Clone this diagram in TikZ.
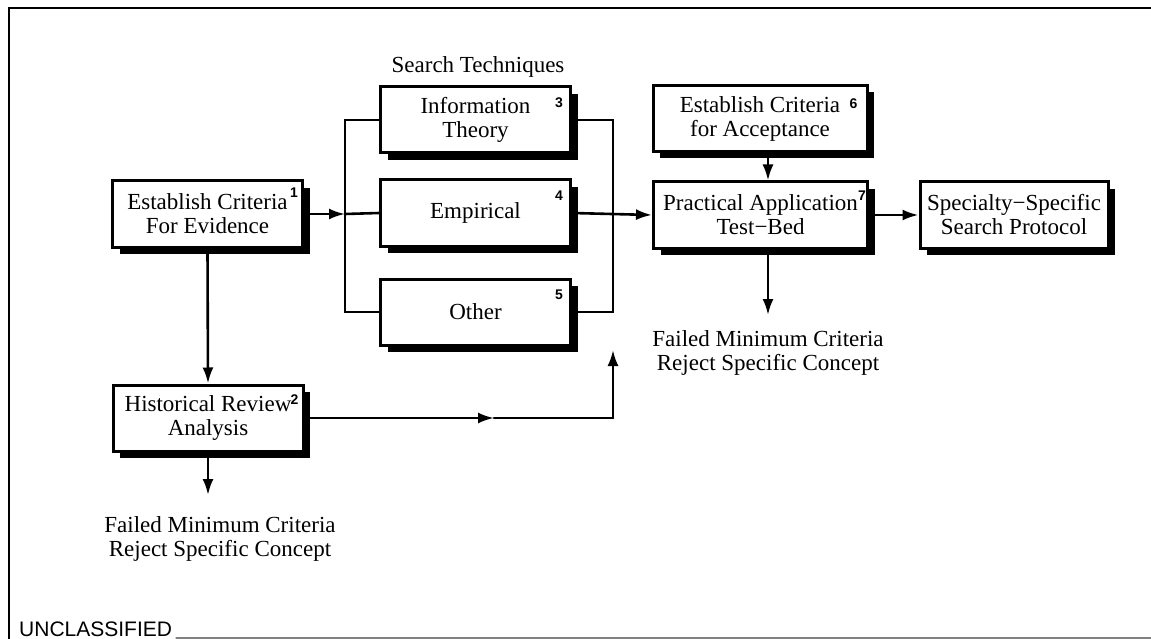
\documentclass[tikz,border=0pt]{standalone}
\usepackage{fontspec}
\setmainfont{Liberation Serif}
\newfontfamily\numfont{Liberation Sans}
\usepackage{tikz}
\usetikzlibrary{arrows.meta,shadows,positioning}
\tikzset{>={Latex[length=16pt,width=11pt]},
  box/.style={draw,line width=3pt,fill=white,minimum width=190pt,
    minimum height=66pt,inner sep=0pt,align=center,
    font=\fontsize{23}{24}\selectfont,
    drop shadow={shadow xshift=7pt,shadow yshift=-7pt,fill=black,opacity=1}},
  wbox/.style={box,minimum width=214pt},
  num/.style={font=\numfont\bfseries\fontsize{14}{14}\selectfont,inner sep=0pt},
  conn/.style={line width=2.6pt},
  lbl/.style={align=center,font=\fontsize{23}{24}\selectfont}}

\begin{document}
\begin{tikzpicture}[x=1pt,y=-1pt,line cap=round]

  \useasboundingbox (0,0) rectangle (1151,639);

  % frame
  \draw [line width=2.8pt] (1151,8) -- (9,8) -- (9,639);
  \draw [gray,line width=1.2pt] (176,638) -- (1151,638);
  \node [anchor=base west,inner sep=0pt,font=\numfont\fontsize{21}{21}\selectfont]
    (uncl) at (19,636) {UNCLASSIFIED};

  % boxes
  \node [box] (crit) at (207.5,214) {Establish Criteria\\For Evidence};
  \node [box] (hist) at (208,418) {Historical Review\\Analysis};
  \node [box] (info) at (475.5,120) {Information\\Theory};
  \node [box] (emp) at (475.5,213) {Empirical};
  \node [box] (oth) at (475.5,312) {Other};
  \node [wbox] (acc) at (760,118.5) {Establish Criteria\\for Acceptance};
  \node [wbox] (prac) at (760.5,215) {Practical Application\\Test−Bed};
  \node [box,minimum width=188pt] (spec) at (1014,215) {Specialty−Specific\\Search Protocol};

  \node [lbl] (tech) at (478,67) {Search Techniques};

  % numbers
  \node [num] (n1) at ([xshift=-10pt,yshift=-13pt]crit.north east) {1};
  \node [num] (n2) at ([xshift=-10pt,yshift=-16pt]hist.north east) {2};
  \node [num] (n3) at ([xshift=-13pt,yshift=-17pt]info.north east) {3};
  \node [num] (n4) at ([xshift=-13pt,yshift=-17pt]emp.north east) {4};
  \node [num] (n5) at ([xshift=-13pt,yshift=-17pt]oth.north east) {5};
  \node [num] (n6) at ([xshift=-15pt,yshift=-20pt]acc.north east) {6};
  \node [num] (n7) at ([xshift=-7pt,yshift=-15pt]prac.north east) {7};

  % bus points
  \coordinate (la) at (345,120);
  \coordinate (lm) at (345,214);
  \coordinate (lb) at (345,312);
  \coordinate (ra) at (613,120);
  \coordinate (rc) at (613,312);
  \coordinate (rup) at (613,350);
  \coordinate (rb) at (613,418);
  \coordinate (hm) at (494,418);
  \coordinate (f2) at (208,495);
  \coordinate (f7) at (768,315);

  % connectors
  \draw [conn,->] (crit.east) -- (lm);
  \draw [conn] (info.west) -- (la) -- (lb) -- (oth.west);
  \draw [conn] (lm) -- (emp.west);
  \draw [conn] (info.east) -- (ra) -- (rc) -- (oth.east);
  \draw [conn,->] (emp.east) -- (prac.west);
  \draw [conn,->] (hist.east) -- (hm);
  \draw [conn] (hm) -- (rb);
  \draw [conn,->] (rb) -- (rup);
  \draw [conn,->] (crit.south) -- (hist.north);
  \draw [conn,->] (hist.south) -- (f2);
  \draw [conn,->] ([xshift=8pt]acc.south) -- ([xshift=7.5pt]prac.north);
  \draw [conn,->] (prac.east) -- (spec.west);
  \draw [conn,->] ([xshift=7.5pt]prac.south) -- (f7);

  \node [lbl] (fail2) at (220,539) {Failed Minimum Criteria\\Reject Specific Concept};
  \node [lbl] (fail7) at (768,353) {Failed Minimum Criteria\\Reject Specific Concept};

\end{tikzpicture}
\end{document}
